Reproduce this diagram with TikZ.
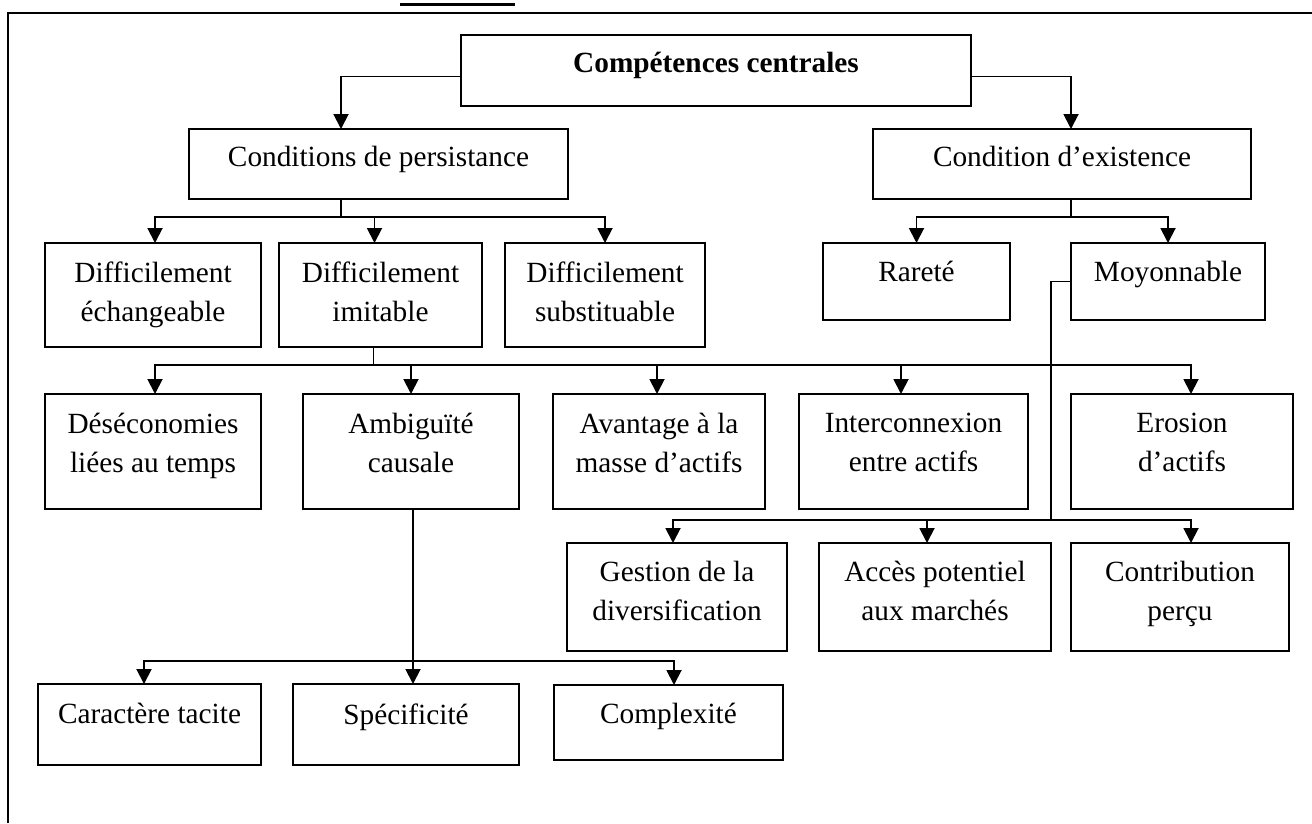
\documentclass[tikz,border=0pt]{standalone}
\usepackage{fontspec}
\setmainfont{Liberation Serif}
\usetikzlibrary{arrows.meta,calc}
\tikzset{
  box/.style={draw, line width=2pt, outer sep=0pt, inner sep=0pt},
  txt/.style={font=\fontsize{29.3}{39}\selectfont, align=center, inner sep=0pt, text depth=6.5pt},
  conn/.style={line width=1.9pt},
  thinconn/.style={line width=1.4pt},
  arr/.style={conn, -{Triangle[length=15pt,width=15pt]}},
  frameline/.style={line width=2.2pt},
}
\newcommand\bx[7]{%
  \node[box, minimum width={(#4-#2)*1pt}, minimum height={(#5-#3)*1pt}] (#1) at ({(#2+#4)/2},{(#3+#5)/2}) {};
  \node[txt] (#1-t) at ({(#2+#4)/2},{#6+2}) {#7};}
\begin{document}
\begin{tikzpicture}[x=1pt,y=-1pt]
\useasboundingbox (0,0) rectangle (1312,823);
% frame and title fragment
\draw[frameline] (8,823) -- (8,13) -- (1312,13);
\draw[line width=3pt] (400,4) -- (515,4);
% boxes
\bx{cc}{461}{35}{971}{106}{64}{\bfseries Compétences centrales}
\bx{persist}{189}{129}{568}{199}{158}{Conditions de persistance}
\bx{exist}{873}{129}{1251}{199}{158}{Condition d’existence}
\bx{dech}{45}{243}{261}{347}{292.5}{Difficilement\\échangeable}
\bx{dimit}{279}{243}{482}{347}{292.5}{Difficilement\\imitable}
\bx{dsubst}{505}{243}{705}{347}{292.5}{Difficilement\\substituable}
\bx{rarete}{823}{243}{1010}{320}{273}{Rareté}
\bx{moyon}{1071}{243}{1265}{320}{273}{Moyonnable}
\bx{deseco}{45}{394}{261}{509}{444}{Déséconomies\\liées au temps}
\bx{ambig}{303}{394}{519}{509}{444}{Ambiguïté\\causale}
\bx{avant}{553}{394}{765}{509}{444}{Avantage à la\\masse d’actifs}
\bx{inter}{799}{394}{1028}{509}{444}{Interconnexion\\entre actifs}
\bx{erosion}{1071}{394}{1293}{509}{444}{Erosion\\d’actifs}
\bx{gestion}{567}{543}{787}{651}{592}{Gestion de la\\diversification}
\bx{acces}{819}{543}{1051}{651}{592}{Accès potentiel\\aux marchés}
\bx{contrib}{1071}{543}{1289}{651}{592}{Contribution\\perçu}
\bx{carac}{38}{684}{261}{765}{715}{Caractère tacite}
\bx{spec}{293}{684}{519}{765}{715}{Spécificité}
\bx{complex}{554}{685}{783}{760}{715}{Complexité}
% connectors: top
\draw[arr] ([yshift=-6pt]cc.west) -| ([xshift=-37.5pt]persist.north);
\draw[arr] ([yshift=-6pt]cc.east) -| ([xshift=9pt]exist.north);
% persistance
\draw[conn] ([xshift=-37.5pt]persist.south) -- ++(0,18) coordinate (j1);
\draw[arr] (j1) -| ([xshift=2pt]dech.north);
\draw[arr] (j1) -| ([xshift=-6pt]dimit.north);
\draw[arr] (j1) -| (dsubst.north);
% existence
\draw[conn] ([xshift=9pt]exist.south) -- ++(0,18) coordinate (j2);
\draw[arr] (j2) -| (rarete.north);
\draw[arr] (j2) -| (moyon.north);
% imitable
\draw[conn] ([xshift=-7pt]dimit.south) -- ++(0,18) coordinate (j3);
\draw[arr] (j3) -| ([xshift=2pt]deseco.north);
\draw[arr] (j3) -| (ambig.north);
\draw[arr] (j3) -| ([xshift=-2pt]avant.north);
\draw[arr] (j3) -| ([xshift=-12.5pt]inter.north);
\draw[arr] (j3) -| ([xshift=9pt]erosion.north);
% moyonnable
\coordinate (k2) at (1051,520);
\draw[thinconn] (moyon.west) -| (k2);
\draw[arr] (k2) -| ([xshift=-4pt]gestion.north);
\draw[arr] (k2) -| ([xshift=-8pt]acces.north);
\draw[arr] (k2) -| ([xshift=11pt]contrib.north);
% ambiguite
\coordinate (j5) at (413,661);
\draw[arr] ([xshift=2pt]ambig.south) -- ([xshift=2pt]ambig.south |- spec.north);
\draw[arr] (j5) -| ([xshift=-5.5pt]carac.north);
\draw[arr] (j5) -| ([xshift=5.5pt]complex.north);
\end{tikzpicture}
\end{document}
